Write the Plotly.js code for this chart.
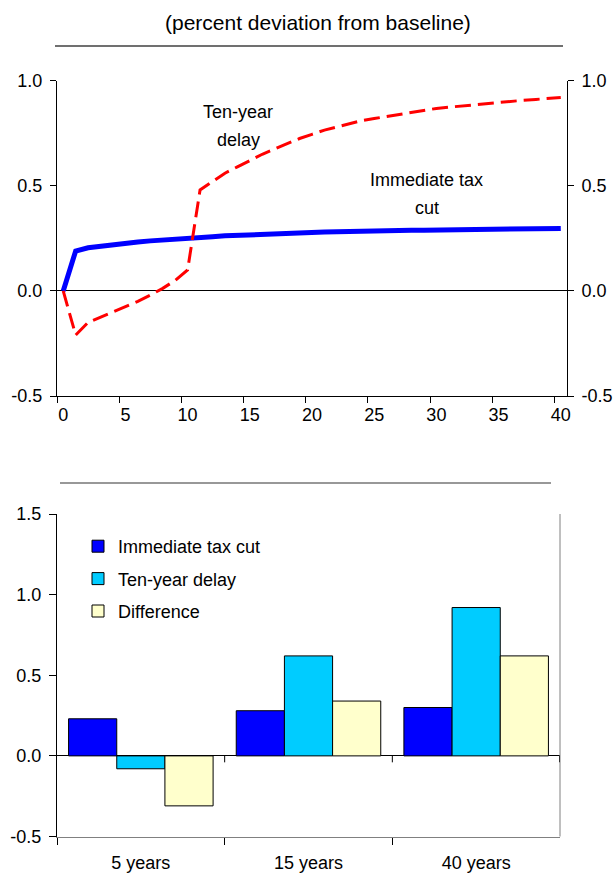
<!DOCTYPE html>
<html><head><meta charset="utf-8">
<script src="https://cdn.plot.ly/plotly-3.0.1.min.js"></script>
<style>html,body{margin:0;padding:0;background:#fff}</style>
</head><body><div id="chart" style="width:616px;height:873px"></div>
<script>
// ---- data ----
const years = [0,1,2,3,4,5,6,7,8,9,10,11,12,13,14,15,16,17,18,19,20,21,22,23,24,25,26,27,28,29,30,31,32,33,34,35,36,37,38,39,40];
const immediateTaxCut = [0,0.19,0.205,0.213,0.22,0.228,0.233,0.238,0.243,0.247,0.251,0.255,0.258,0.262,0.265,0.268,0.27,0.272,0.274,0.276,0.278,0.28,0.281,0.283,0.284,0.285,0.286,0.287,0.288,0.289,0.29,0.291,0.292,0.293,0.293,0.294,0.295,0.295,0.296,0.296,0.297];
const tenYearDelay = [0,-0.21,-0.15,-0.125,-0.1,-0.078,-0.05,-0.02,0.012,0.05,0.1,0.48,0.52,0.56,0.59,0.62,0.65,0.675,0.70,0.725,0.745,0.765,0.78,0.795,0.81,0.82,0.83,0.84,0.85,0.86,0.868,0.874,0.88,0.886,0.892,0.897,0.902,0.907,0.911,0.915,0.92];
const yearTickLabels = ['0','5','10','15','20','25','30','35','40'];
const topYTickLabels = ['-0.5','0.0','0.5','1.0'];
const bottomYTickLabels = ['-0.5','0.0','0.5','1.0','1.5'];
const horizons = ['5 years','15 years','40 years'];
const barImmediate = [0.23,0.28,0.30];
const barDelay = [-0.08,0.62,0.92];
const barDifference = [-0.31,0.34,0.62];
const seriesNames = ['Immediate tax cut','Ten-year delay','Difference'];

// ---- layout helpers ----
const W = 616, H = 873;
const px = v => v / W;
const py = v => 1 - v / H;
const FONT = 'Liberation Sans, Arial, sans-serif';

const traces = [
  {x: years, y: immediateTaxCut, type: 'scatter', mode: 'lines', xaxis: 'x', yaxis: 'y',
   line: {color: '#0000FF', width: 5}, showlegend: false, hoverinfo: 'skip'},
  {x: years, y: tenYearDelay, type: 'scatter', mode: 'lines', xaxis: 'x', yaxis: 'y2',
   line: {color: '#FF0000', width: 3, dash: '16px,7px'}, showlegend: false, hoverinfo: 'skip'},
  {x: horizons, y: barImmediate, type: 'bar', name: seriesNames[0], xaxis: 'x2', yaxis: 'y3', legendgroup: 'a',
   marker: {color: '#0000FF', line: {color: '#000', width: 1}}},
  {x: horizons, y: barDelay, type: 'bar', name: seriesNames[1], xaxis: 'x2', yaxis: 'y3', legendgroup: 'b',
   marker: {color: '#00CCFF', line: {color: '#000', width: 1}}},
  {x: horizons, y: barDifference, type: 'bar', name: seriesNames[2], xaxis: 'x2', yaxis: 'y3', legendgroup: 'c',
   marker: {color: '#FFFFCC', line: {color: '#000', width: 1}}}
];

const tickFont = {family: FONT, size: 18, color: '#000'};
const yTop = {
  domain: [py(396), py(80.7)], range: [-0.5, 1.0],
  tickvals: topYTickLabels.map(Number), ticktext: topYTickLabels,
  ticks: 'outside', ticklen: 6, tickcolor: '#000', showline: true, linecolor: '#000', linewidth: 1,
  showgrid: false, tickfont: tickFont, fixedrange: true, ticklabelstandoff: 4
};

const layout = {
  width: W, height: H, margin: {l: 0, r: 0, t: 0, b: 0},
  paper_bgcolor: '#fff', plot_bgcolor: 'rgba(0,0,0,0)',
  font: {family: FONT, size: 18, color: '#000'},
  barmode: 'group', bargap: 0.138, bargroupgap: 0,
  xaxis: {
    domain: [px(57), px(567)], anchor: 'y', range: [-0.5, 40.5],
    tickvals: yearTickLabels.map(Number), ticktext: yearTickLabels,
    ticks: '', ticklabelstandoff: 2,
    minor: {tick0: -0.5, dtick: 5, ticks: 'outside', ticklen: 6, tickcolor: '#000', tickwidth: 1, showgrid: false},
    showline: true, linecolor: '#000', linewidth: 1, showgrid: false, zeroline: false,
    tickfont: tickFont, fixedrange: true
  },
  yaxis: Object.assign({}, yTop, {anchor: 'x', side: 'left', zeroline: true, zerolinecolor: '#000', zerolinewidth: 1}),
  yaxis2: Object.assign({}, yTop, {anchor: 'x', overlaying: 'y', side: 'right', zeroline: false}),
  xaxis2: {
    domain: [px(57), px(560)], anchor: 'y3', type: 'category', categoryarray: horizons, range: [-0.5, 2.5],
    tickson: 'boundaries', ticks: 'outside', ticklen: 7, tickcolor: '#000',
    showline: true, linecolor: '#808080', linewidth: 1, showgrid: false, zeroline: false,
    tickfont: tickFont, fixedrange: true, ticklabelstandoff: 10
  },
  yaxis3: {
    domain: [py(836.5), py(514)], anchor: 'x2', range: [-0.5, 1.5],
    tickvals: bottomYTickLabels.map(Number), ticktext: bottomYTickLabels,
    ticks: 'outside', ticklen: 7, tickcolor: '#000', showline: true, linecolor: '#000',
    linewidth: 1, showgrid: false, zeroline: true, zerolinecolor: '#000', zerolinewidth: 1,
    tickfont: tickFont, fixedrange: true, ticklabelstandoff: 4
  },
  showlegend: true,
  legend: {
    x: px(78), y: py(528), xanchor: 'left', yanchor: 'top', bgcolor: 'rgba(0,0,0,0)',
    font: {family: FONT, size: 18, color: '#000'}, traceorder: 'grouped', tracegroupgap: 6,
    borderwidth: 0
  },
  shapes: [
    {type: 'line', xref: 'paper', yref: 'paper', x0: px(55), x1: px(563), y0: py(46), y1: py(46),
     line: {color: '#707070', width: 2}},
    {type: 'line', xref: 'paper', yref: 'paper', x0: px(60), x1: px(551), y0: py(483), y1: py(483),
     line: {color: '#333333', width: 1.2}},
    {type: 'line', xref: 'x2 domain', yref: 'y3 domain', x0: 1, x1: 1, y0: 0, y1: 1,
     line: {color: '#808080', width: 1}},
    {type: 'line', xref: 'x2', yref: 'y3', x0: 0.5, x1: 0.5, y0: 0, y1: -0.04, line: {color: '#000', width: 1}},
    {type: 'line', xref: 'x2', yref: 'y3', x0: 1.5, x1: 1.5, y0: 0, y1: -0.04, line: {color: '#000', width: 1}},
    {type: 'line', xref: 'x2', yref: 'y3', x0: 2.5, x1: 2.5, y0: 0, y1: -0.04, line: {color: '#000', width: 1.5}}
  ],
  annotations: [
    {text: '(percent deviation from baseline)', xref: 'paper', yref: 'paper', x: px(318), y: py(22),
     showarrow: false, xanchor: 'center', yanchor: 'middle', font: {family: FONT, size: 21, color: '#000'}},
    {text: 'Ten-year', xref: 'paper', yref: 'paper', x: px(238), y: py(112), showarrow: false,
     xanchor: 'center', yanchor: 'middle', font: {family: FONT, size: 18, color: '#000'}},
    {text: 'delay', xref: 'paper', yref: 'paper', x: px(238), y: py(140), showarrow: false,
     xanchor: 'center', yanchor: 'middle', font: {family: FONT, size: 18, color: '#000'}},
    {text: 'Immediate tax', xref: 'paper', yref: 'paper', x: px(426), y: py(180), showarrow: false,
     xanchor: 'center', yanchor: 'middle', font: {family: FONT, size: 18, color: '#000'}},
    {text: 'cut', xref: 'paper', yref: 'paper', x: px(427), y: py(208), showarrow: false,
     xanchor: 'center', yanchor: 'middle', font: {family: FONT, size: 18, color: '#000'}}
  ]
};

Plotly.newPlot('chart', traces, layout, {displayModeBar: false, staticPlot: true});
</script>
</body></html>
